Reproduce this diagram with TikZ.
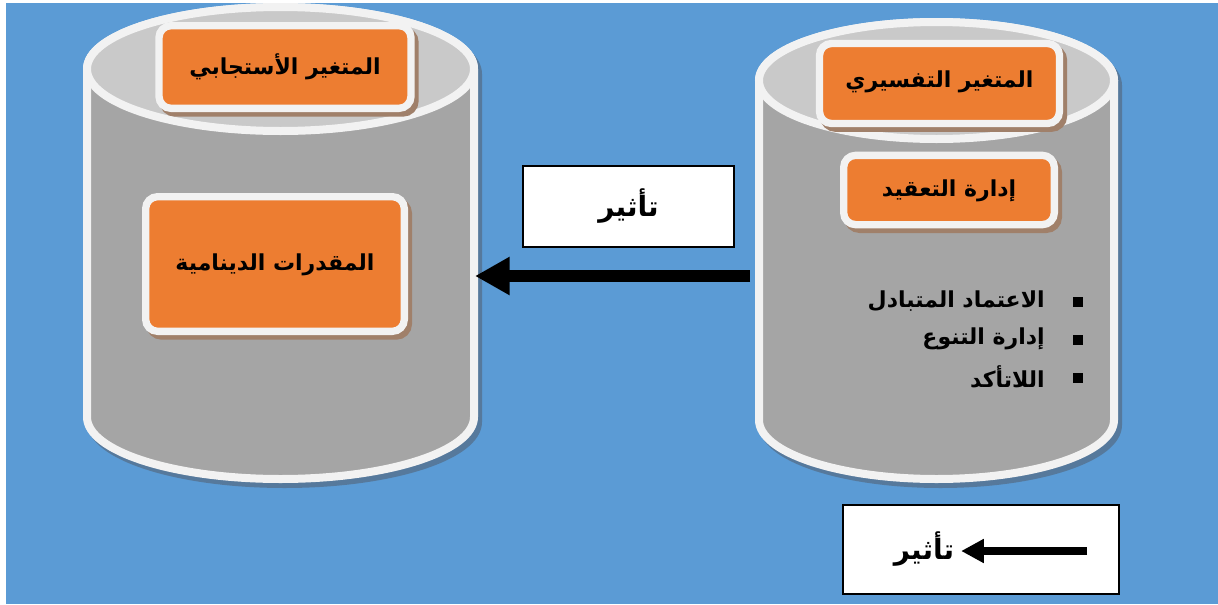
\documentclass[tikz,border=0pt]{standalone}
\usepackage{fontspec}
\usetikzlibrary{arrows.meta}
\TeXXeTstate=1
\newfontfamily\arabicfont[Script=Arabic]{DejaVu Sans}
\definecolor{bgblue}{HTML}{5B9BD5}
\definecolor{cylgray}{HTML}{A5A5A5}
\definecolor{topgray}{HTML}{C9C9C9}
\definecolor{rimwhite}{HTML}{F2F2F2}
\definecolor{cylshadow}{HTML}{56799C}
\definecolor{boxorange}{HTML}{ED7D31}
\definecolor{boxshadow}{HTML}{A0806A}
\tikzset{
  arab/.style={font=\arabicfont\bfseries\fontsize{16.5}{20}\selectfont},
  arabbig/.style={font=\arabicfont\bfseries\fontsize{21}{25}\selectfont},
  cylbody/.style={fill=cylgray, draw=rimwhite, line width=6pt, line join=round},
  cyltop/.style={fill=topgray, draw=rimwhite, line width=6pt},
  cylshade/.style={fill=cylshadow, draw=cylshadow, line width=6pt, line join=round},
  orangebox/.style={preaction={draw=boxshadow, fill=boxshadow, line width=5.5pt,
      transform canvas={xshift=3pt, yshift=-3.5pt}},
    draw=rimwhite, line width=5.5pt, fill=boxorange, rounded corners=9pt,
    inner sep=0pt, arab},
  whitebox/.style={draw=black, line width=1.3pt, fill=white, inner sep=0pt},
  bulletsq/.style={fill=black, inner sep=0pt, minimum size=7pt},
  bullettext/.style={anchor=east, inner sep=0pt, arab},
  bigarrow/.style={line width=9pt, -{Triangle[length=26pt, width=27pt]}},
  legarrow/.style={line width=6pt, -{Triangle[length=17pt, width=17pt]}},
  ghost/.style={inner sep=0pt, draw=none}
}
% cx, rx, top cy, top ry, bottom cy, bottom ry
\newcommand{\drawcyl}[6]{%
  \begin{scope}[shift={(4,5)}]
    \path[cylshade] ({#1-#2},#3) -- ({#1-#2},#5)
      arc[start angle=180, end angle=0, x radius=#2, y radius=#6]
      -- ({#1+#2},#3)
      arc[start angle=0, end angle=-180, x radius=#2, y radius=#4] -- cycle;
  \end{scope}
  \path[cylbody] ({#1-#2},#3) -- ({#1-#2},#5)
      arc[start angle=180, end angle=0, x radius=#2, y radius=#6]
      -- ({#1+#2},#3)
      arc[start angle=0, end angle=-180, x radius=#2, y radius=#4] -- cycle;
  \path[cyltop] (#1,#3) ellipse[x radius=#2, y radius=#4];
}
\begin{document}
\begin{tikzpicture}[x=0.75pt, y=-0.75pt]
  \useasboundingbox (0,0) rectangle (1218,604);
  \fill[white] (0,0) rectangle (1218,604);
  \fill[bgblue] (6,3) rectangle (1218,604);

  % cylinders
  \drawcyl{280.5}{193.5}{69}{62}{417}{62}
  \drawcyl{936.5}{177.5}{80.5}{58.5}{420}{59}
  \node[ghost, minimum width=296pt, minimum height=360pt] (lcyl) at (280.5,243) {};
  \node[ghost, minimum width=272pt, minimum height=349pt] (rcyl) at (936.5,251) {};

  % orange boxes
  \node[orangebox, minimum width=189pt, minimum height=62pt, text depth=4pt] (resp) at (285,67)
    {\beginR المتغير الأستجابي\endR};
  \node[orangebox, minimum width=194pt, minimum height=101pt, text depth=3pt] (dyn) at (275,264)
    {\beginR المقدرات الدينامية\endR};
  \node[orangebox, minimum width=180pt, minimum height=60pt, text depth=6pt] (expl) at (939.5,83.5)
    {\beginR المتغير التفسيري\endR};
  \node[orangebox, minimum width=158pt, minimum height=52pt, text depth=3pt] (compl) at (949,190)
    {\beginR إدارة التعقيد\endR};

  % bullet list
  \node[bulletsq] (b1) at (1078,302) {};
  \node[bulletsq] (b2) at (1078,340) {};
  \node[bulletsq] (b3) at (1078,378) {};
  \node[bullettext] (t1) at (1045,301) {\beginR الاعتماد المتبادل\endR};
  \node[bullettext] (t2) at (1045,339) {\beginR إدارة التنوع\endR};
  \node[bullettext] (t3) at (1045,377) {\beginR اللاتأكد\endR};

  % influence box and arrow
  \node[whitebox, minimum width=158pt, minimum height=61pt, arabbig, text depth=6pt] (infl) at (628.5,206.5)
    {\beginR تأثير\endR};
  \coordinate (arrowstart) at (750,276);
  \coordinate (arrowend) at (475,276);
  \draw[bigarrow] (arrowstart) -- (arrowend);

  % legend
  \node[whitebox, minimum width=207pt, minimum height=67pt] (legend) at (981,549.5) {};
  \node[inner sep=0pt, arabbig] (legtext) at (924,549) {\beginR تأثير\endR};
  \coordinate (legstart) at (1087,551);
  \draw[legarrow] (legstart) -- ([xshift=5pt]legtext.east |- legstart);
\end{tikzpicture}
\end{document}
